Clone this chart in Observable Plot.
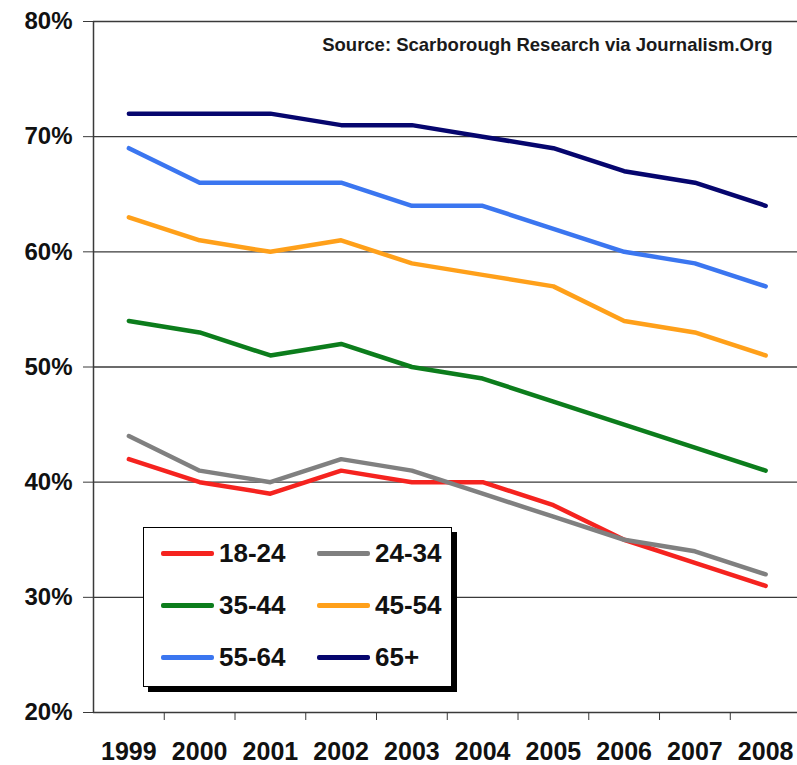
<!DOCTYPE html>
<html>
<head>
<meta charset="utf-8">
<script src="https://cdn.jsdelivr.net/npm/d3@7"></script>
<script src="https://cdn.jsdelivr.net/npm/@observablehq/plot@0.6"></script>
<style>
  html, body { margin: 0; padding: 0; background: #ffffff; }
  #wrap { position: relative; width: 797px; height: 765px; font-family: "Liberation Sans", Arial, sans-serif; }
  #legend { position: absolute; left: 143px; top: 527px; width: 309px; height: 160px; box-sizing: border-box;
            border: 1.5px solid #000; background: #fff; box-shadow: 5px 5px 0 #000; }
  .item { position: absolute; display: flex; align-items: center; height: 30px; margin-top: -15px;
          font-weight: bold; font-size: 26px; color: #111; }
  .sw { width: 53px; height: 5px; margin-right: 5px; border-radius: 2px; }
</style>
</head>
<body>
<div id="wrap"></div>
<script>
const years = [1999, 2000, 2001, 2002, 2003, 2004, 2005, 2006, 2007, 2008];
const groups = ["18-24", "24-34", "35-44", "45-54", "55-64", "65+"];
const colors = ["#f5231f", "#808080", "#0c7d1c", "#ffa01a", "#3b76f0", "#06066e"];
const v18_24 = [42, 40, 39, 41, 40, 40, 38, 35, 33, 31];
const v24_34 = [44, 41, 40, 42, 41, 39, 37, 35, 34, 32];
const v35_44 = [54, 53, 51, 52, 50, 49, 47, 45, 43, 41];
const v45_54 = [63, 61, 60, 61, 59, 58, 57, 54, 53, 51];
const v55_64 = [69, 66, 66, 66, 64, 64, 62, 60, 59, 57];
const v65 = [72, 72, 72, 71, 71, 70, 69, 67, 66, 64];
const yTicks = [20, 30, 40, 50, 60, 70, 80];
const source = "Source: Scarborough Research via Journalism.Org";

const series = [v18_24, v24_34, v35_44, v45_54, v55_64, v65];
const rows = [];
groups.forEach((g, i) => years.forEach((yr, j) => rows.push({group: g, year: yr, value: series[i][j]})));
const between = years.slice(0, -1).map(y => y + 0.5);

const font = `"Liberation Sans", Arial, sans-serif`;

const chart = Plot.plot({
  width: 797,
  height: 765,
  marginLeft: 93,
  marginRight: 0,
  marginTop: 21,
  marginBottom: 53,
  style: {fontFamily: font, background: "transparent", color: "#111"},
  x: {domain: [1998.5, 2008.45]},
  y: {domain: [20, 80]},
  color: {domain: groups, range: colors},
  marks: [
    Plot.gridY(yTicks.slice(1), {stroke: "#3a3a3a", strokeOpacity: 1, strokeWidth: 1.3}),
    Plot.ruleY([20], {stroke: "#3a3a3a", strokeWidth: 1.5}),
    Plot.ruleX([1998.5], {stroke: "#3a3a3a", strokeWidth: 1.5}),
    Plot.axisY({ticks: yTicks, tickFormat: d => d + "%", tickSize: 10, tickPadding: 11,
                fontSize: 24, fontWeight: "bold", stroke: "#3a3a3a", label: null}),
    Plot.axisX({ticks: between, tickSize: 8, tickFormat: () => "", stroke: "#3a3a3a", label: null}),
    Plot.axisX({ticks: years, tickSize: 0, tickPadding: 30, tickFormat: d => String(d),
                fontSize: 25, fontWeight: "bold", label: null}),
    Plot.line(rows, {x: "year", y: "value", z: "group", stroke: "group", strokeWidth: 4.5,
                     strokeLinejoin: "round", strokeLinecap: "round"}),
    Plot.text([source], {text: d => d, frameAnchor: "top-right", dx: -25, dy: 23.5,
                         textAnchor: "end", lineAnchor: "middle", fontSize: 18.5, fontWeight: "bold", fill: "#1a1a1a"})
  ]
});

const wrap = document.getElementById("wrap");
wrap.appendChild(chart);

const legend = document.createElement("div");
legend.id = "legend";
const colX = [17, 173];
const rowY = [25, 77, 129];
groups.forEach((g, i) => {
  const item = document.createElement("div");
  item.className = "item";
  item.style.left = colX[i % 2] + "px";
  item.style.top = rowY[Math.floor(i / 2)] + "px";
  const sw = document.createElement("div");
  sw.className = "sw";
  sw.style.background = colors[i];
  const t = document.createElement("span");
  t.textContent = g;
  item.appendChild(sw);
  item.appendChild(t);
  legend.appendChild(item);
});
wrap.appendChild(legend);
</script>
</body>
</html>
